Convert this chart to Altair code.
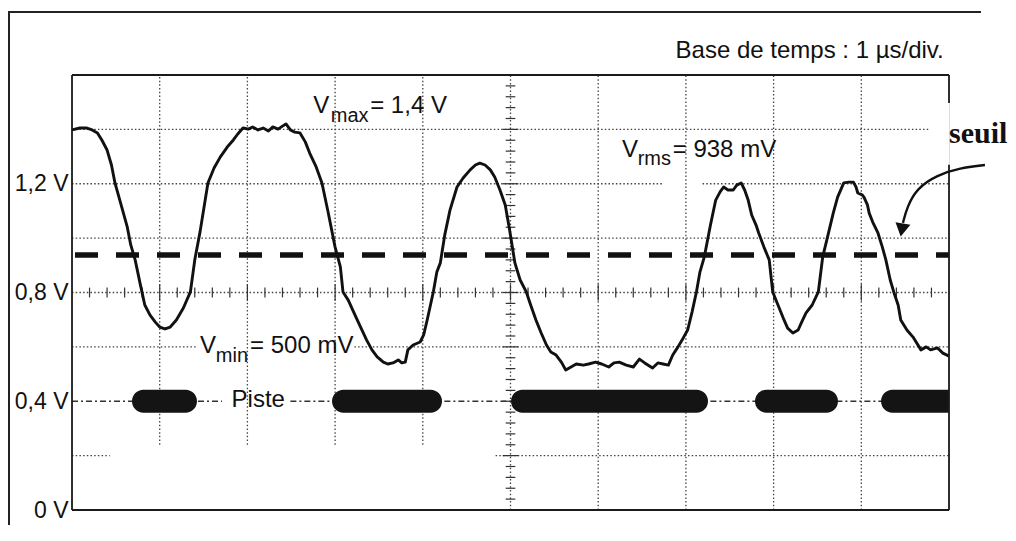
import altair as alt
import pandas as pd

# ---- signal (time in µs, voltage in V) ----
t_us = [0.00, 0.09, 0.17, 0.23, 0.29, 0.34, 0.40, 0.45, 0.49, 0.56, 0.63, 0.67, 0.72, 0.78, 0.83,
        0.89, 0.95, 1.00, 1.06, 1.12, 1.19, 1.27, 1.35, 1.40, 1.46, 1.55, 1.62, 1.69, 1.77, 1.84,
        1.89, 1.95, 2.01, 2.06, 2.12, 2.18, 2.24, 2.29, 2.35, 2.40, 2.44, 2.49, 2.54, 2.60, 2.66,
        2.71, 2.78, 2.85, 2.92, 3.00, 3.06, 3.09, 3.15, 3.20, 3.28, 3.36, 3.42, 3.48, 3.55, 3.60,
        3.66, 3.72, 3.76, 3.80, 3.83, 3.89, 3.97, 4.01, 4.05, 4.12, 4.16, 4.20, 4.25, 4.31, 4.39,
        4.46, 4.54, 4.60, 4.65, 4.71, 4.77, 4.82, 4.88, 4.94, 4.99, 5.05, 5.11, 5.18, 5.23, 5.29,
        5.35, 5.41, 5.46, 5.52, 5.58, 5.63, 5.69, 5.75, 5.83, 5.89, 5.97, 6.04, 6.12, 6.18, 6.24,
        6.32, 6.40, 6.47, 6.53, 6.62, 6.68, 6.74, 6.80, 6.85, 6.91, 6.97, 7.02, 7.07, 7.12, 7.16,
        7.21, 7.28, 7.34, 7.39, 7.43, 7.48, 7.54, 7.58, 7.63, 7.67, 7.71, 7.75, 7.80, 7.83, 7.89,
        7.95, 7.99, 8.05, 8.11, 8.16, 8.22, 8.28, 8.32, 8.37, 8.44, 8.51, 8.56, 8.62, 8.68, 8.73,
        8.80, 8.86, 8.91, 8.94, 8.96, 9.01, 9.03, 9.07, 9.09, 9.13, 9.19, 9.24, 9.28, 9.33, 9.37,
        9.42, 9.45, 9.52, 9.59, 9.68, 9.74, 9.79, 9.87, 9.93, 10.00]
v_volts = [1.398, 1.405, 1.405, 1.398, 1.387, 1.361, 1.324, 1.269, 1.203, 1.122, 1.041, 0.975, 0.920, 0.828, 0.754,
           0.717, 0.691, 0.673, 0.666, 0.673, 0.699, 0.743, 0.802, 0.920, 1.023, 1.203, 1.258, 1.298, 1.335, 1.361,
           1.383, 1.405, 1.401, 1.409, 1.398, 1.405, 1.394, 1.409, 1.401, 1.412, 1.420, 1.398, 1.390, 1.387, 1.354,
           1.313, 1.265, 1.203, 1.096, 0.967, 0.894, 0.802, 0.772, 0.736, 0.680, 0.625, 0.589, 0.563, 0.544, 0.537,
           0.541, 0.552, 0.541, 0.544, 0.589, 0.607, 0.618, 0.644, 0.699, 0.802, 0.875, 0.909, 1.011, 1.103, 1.188,
           1.221, 1.251, 1.269, 1.276, 1.269, 1.251, 1.225, 1.177, 1.122, 1.030, 0.909, 0.846, 0.802, 0.754, 0.699,
           0.651, 0.607, 0.581, 0.570, 0.544, 0.515, 0.526, 0.537, 0.533, 0.537, 0.544, 0.537, 0.526, 0.541, 0.544,
           0.533, 0.526, 0.555, 0.541, 0.522, 0.541, 0.537, 0.533, 0.570, 0.600, 0.633, 0.662, 0.728, 0.802, 0.875,
           0.931, 1.048, 1.140, 1.170, 1.188, 1.177, 1.177, 1.195, 1.203, 1.177, 1.140, 1.085, 1.048, 1.019, 0.967,
           0.920, 0.802, 0.754, 0.706, 0.669, 0.651, 0.662, 0.691, 0.725, 0.754, 0.802, 0.931, 1.011, 1.092, 1.151,
           1.203, 1.206, 1.206, 1.188, 1.166, 1.159, 1.151, 1.122, 1.092, 1.059, 1.019, 0.967, 0.920, 0.846, 0.802,
           0.754, 0.699, 0.662, 0.636, 0.589, 0.600, 0.589, 0.596, 0.577, 0.566]

# ---- threshold and track ----
threshold_v = 0.938
piste_v = 0.4
bar_start = [0.684, 2.965, 5.006, 7.788, 9.225]
bar_end = [1.425, 4.219, 7.252, 8.734, 10.4]
bar_half = 0.042

y_tick_values = [0, 0.4, 0.8, 1.2]

# ---- grid segments (value, from, to) ----
hgrid = [(1.4, 0, 9.77), (1.2, 0, 6.74), (1.2, 7.19, 10), (1.0, 0, 10), (0.8, 0, 10),
         (0.6, 0, 1.42), (0.6, 3.22, 10), (0.2, 0, 0.43), (0.2, 4.83, 10)]
vgrid = [(1, 0.24, 1.6), (2, 0.24, 1.6), (3, 0.24, 1.6), (4, 0.24, 1.6), (5, 0, 1.6),
         (6, 0, 1.6), (7, 0, 1.6), (8, 0, 1.6), (9, 0, 1.6)]
piste_segments = [(0, 1.71), (2.49, 10)]
border_h = [(0.0, 0, 10), (1.6, 0, 10)]
border_v = [(0, 0, 1.6), (10, 0, 1.27), (10, 1.497, 1.6)]

# ---- annotations (t, v) ----
main_text = ["V", "= 1,4 V", "V", "= 938 mV", "V", "= 500 mV", "Piste"]
main_t = [2.75, 3.40, 6.27, 6.85, 1.46, 2.03, 1.82]
main_v = [1.460, 1.460, 1.298, 1.298, 0.577, 0.577, 0.379]
sub_text = ["max", "rms", "min"]
sub_t = [2.95, 6.45, 1.64]
sub_v = [1.427, 1.269, 0.544]
base_text = "Base de temps : 1 µs/div."
base_t, base_v = 9.94, 1.6625
seuil_text = "seuil"
seuil_t, seuil_v = 10.0, 1.350
arrow_t = [10.41, 10.125, 9.863, 9.635, 9.521, 9.475]
arrow_v = [1.269, 1.258, 1.232, 1.184, 1.114, 1.056]
arrow_head_t, arrow_head_v = 9.462, 1.030

W, H = 877, 435
xs = alt.Scale(domain=[0, 10], nice=False, zero=False)
ys = alt.Scale(domain=[0, 1.6], nice=False, zero=False)
yaxis = alt.Axis(values=y_tick_values, domain=False, ticks=False, tickSize=0, grid=False, title=None,
                 labelExpr="datum.value == 0 ? '0 V' : replace(format(datum.value, '.1f'), '.', ',') + ' V'",
                 labelFont="Liberation Sans", labelFontSize=23, labelColor="#111", labelPadding=4)
X = lambda f: alt.X(f, type="quantitative", scale=xs, axis=None)
Y = lambda f: alt.Y(f, type="quantitative", scale=ys, axis=yaxis)

GRID = "#444"
TXT = "#111"

hg = pd.DataFrame(hgrid, columns=["v", "t", "t2"])
hg["v2"] = hg["v"]
vg = pd.DataFrame(vgrid, columns=["t", "v", "v2"])
vg["t2"] = vg["t"]
grid_df = pd.concat([hg, vg], ignore_index=True)
grid = alt.Chart(grid_df).mark_rule(color=GRID, strokeWidth=1.3, strokeDash=[1.5, 2.2]).encode(
    x=X("t"), x2="t2", y=Y("v"), y2="v2")

# centre graduations
tk = []
for i in range(1, 50):
    h = 0.03 if i % 5 == 0 else 0.018
    tk.append({"t": i * 0.2, "t2": i * 0.2, "v": 0.8 - h, "v2": 0.8 + h})
for i in range(1, 40):
    h = 0.09 if i % 5 == 0 else 0.055
    tk.append({"t": 5 - h, "t2": 5 + h, "v": i * 0.04, "v2": i * 0.04})
ticks = alt.Chart(pd.DataFrame(tk)).mark_rule(color="#333", strokeWidth=1.2).encode(
    x=X("t"), x2="t2", y=Y("v"), y2="v2")

ps = pd.DataFrame(piste_segments, columns=["t", "t2"])
ps["v"] = piste_v
piste = alt.Chart(ps).mark_rule(color="#333", strokeWidth=1.6, strokeDash=[6, 3, 2, 3]).encode(
    x=X("t"), x2="t2", y=Y("v"))

bh = pd.DataFrame(border_h, columns=["v", "t", "t2"])
bh["v2"] = bh["v"]
bv = pd.DataFrame(border_v, columns=["t", "v", "v2"])
bv["t2"] = bv["t"]
border = alt.Chart(pd.concat([bh, bv], ignore_index=True)).mark_rule(color="#1a1a1a", strokeWidth=1.8).encode(
    x=X("t"), x2="t2", y=Y("v"), y2="v2")

bars_df = pd.DataFrame({"t": bar_start, "t2": bar_end})
bars_df["v"] = piste_v - bar_half
bars_df["v2"] = piste_v + bar_half
bars = alt.Chart(bars_df).mark_bar(color="#141414", cornerRadius=11.5, clip=True).encode(
    x=X("t"), x2="t2", y=Y("v"), y2="v2")

thr = alt.Chart(pd.DataFrame({"t": [0], "t2": [10], "v": [threshold_v]})).mark_rule(
    color="#111", strokeWidth=5.5, strokeDash=[23, 18], strokeDashOffset=38).encode(
    x=X("t"), x2="t2", y=Y("v"))

sig = alt.Chart(pd.DataFrame({"t": t_us, "v": v_volts})).mark_line(
    color="#111", strokeWidth=2.9, strokeJoin="round").encode(x=X("t"), y=Y("v"), order="t:Q")

txt_main = alt.Chart(pd.DataFrame({"t": main_t, "v": main_v, "s": main_text})).mark_text(
    align="left", baseline="alphabetic", font="Liberation Sans", fontSize=24, color=TXT).encode(
    x=X("t"), y=Y("v"), text="s")
txt_sub = alt.Chart(pd.DataFrame({"t": sub_t, "v": sub_v, "s": sub_text})).mark_text(
    align="left", baseline="alphabetic", font="Liberation Sans", fontSize=20, color=TXT).encode(
    x=X("t"), y=Y("v"), text="s")
txt_base = alt.Chart(pd.DataFrame({"t": [base_t], "v": [base_v], "s": [base_text]})).mark_text(
    align="right", baseline="alphabetic", font="Liberation Sans", fontSize=24, color=TXT).encode(
    x=X("t"), y=Y("v"), text="s")
txt_seuil = alt.Chart(pd.DataFrame({"t": [seuil_t], "v": [seuil_v], "s": [seuil_text]})).mark_text(
    align="left", baseline="alphabetic", font="Liberation Serif", fontWeight="bold", fontSize=30,
    color="#111").encode(x=X("t"), y=Y("v"), text="s")

arrow = alt.Chart(pd.DataFrame({"t": arrow_t, "v": arrow_v, "o": list(range(len(arrow_t)))})).mark_line(
    color="#111", strokeWidth=2.4, interpolate="basis").encode(x=X("t"), y=Y("v"), order="o:Q")
head = alt.Chart(pd.DataFrame({"t": [arrow_head_t], "v": [arrow_head_v]})).mark_point(
    shape="triangle-down", filled=True, size=230, color="#111", opacity=1, angle=10).encode(
    x=X("t"), y=Y("v"))

one = pd.DataFrame({"a": [0]})
frame_top = alt.Chart(one).mark_rule(color="#222", strokeWidth=2).encode(
    x=alt.value(-64), x2=alt.value(909), y=alt.value(-63))
frame_left = alt.Chart(one).mark_rule(color="#222", strokeWidth=2).encode(
    x=alt.value(-63), y=alt.value(-63), y2=alt.value(480))

chart = alt.layer(
    frame_top, frame_left, grid, ticks, piste, bars, thr, sig, border,
    txt_main, txt_sub, txt_base, txt_seuil, arrow, head
).properties(
    width=W, height=H,
    autosize=alt.AutoSizeParams(type="none"),
    padding={"left": 64, "top": 67, "right": 59, "bottom": 15},
).configure_view(stroke=None).configure(background="white")

chart.save("out.html", embed_options={"renderer": "svg", "actions": False})
